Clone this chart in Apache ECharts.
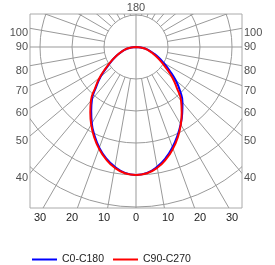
<!DOCTYPE html>
<html>
<head>
<meta charset="utf-8">
<script src="https://cdn.jsdelivr.net/npm/echarts@6/dist/echarts.min.js"></script>
<style>
  html, body { margin: 0; padding: 0; background: #fff; }
  #chart { width: 275px; height: 265px; }
</style>
</head>
<body>
<div id="chart"></div>
<script>
// polar angle measured from straight down (0) to straight up (180)
const angles = [0, 5, 10, 15, 20, 25, 30, 35, 40, 45, 50, 55, 60, 65, 70, 75, 80, 85, 90];
const c0   = [40, 39.5, 38.0, 35.9, 33.3, 30.6, 27.9, 25.2, 22.6, 19.5, 16.2, 12.8, 10.0, 7.8, 5.9, 4.3, 2.9, 1.5, 0];
const c180 = [40, 39.5, 38.0, 36.0, 33.5, 30.6, 27.6, 24.4, 21.4, 17.6, 14.4, 11.2, 8.8, 6.9, 5.2, 3.9, 2.7, 1.4, 0];
const c90  = [40, 39.6, 38.3, 36.3, 33.8, 31.0, 28.0, 24.9, 21.9, 18.0, 14.8, 11.5, 9.0, 7.0, 5.3, 4.0, 2.8, 1.45, 0];
const c270 = [40, 39.6, 38.3, 36.3, 33.8, 31.0, 28.0, 24.9, 21.9, 18.0, 14.8, 11.5, 9.0, 7.0, 5.3, 4.0, 2.8, 1.45, 0];

const ringValues = [10, 20, 30, 40, 50];
const spokeStep = 10;
const sideLabels = [100, 90, 80, 70, 60, 50, 40];
const topLabel = '180';

const xEdge = 33.125;
const yTop = 10.3125, yBottom = -50.3125;

const rad = d => d * Math.PI / 180;
const toXY = (r, a, side) => [side * r * Math.sin(rad(a)), -r * Math.cos(rad(a))];

// left half goes from the centre down to the bottom, right half back up
function curve(left, right) {
    const pts = [];
    for (let i = angles.length - 1; i >= 0; i--) pts.push(toXY(left[i], angles[i], -1));
    for (let i = 1; i < angles.length; i++) pts.push(toXY(right[i], angles[i], 1));
    return pts;
}

const spokes = [];
for (let a = 0; a < 360; a += spokeStep) spokes.push([a, a % 90 === 0 ? 0 : 10]);

const labelData = [];
sideLabels.forEach(a => {
    const y = -xEdge / Math.tan(rad(a));
    const off = a === 90 ? 0 : 5;
    labelData.push({ value: [-xEdge, y, a], label: { position: 'left', offset: [0, off] } });
    labelData.push({ value: [xEdge, y, a], label: { position: 'right', offset: [0, off] } });
});
labelData.push({ value: [0, yTop, topLabel], label: { position: 'top', distance: 1 } });

const gridColor = '#999';
const font = 'Liberation Sans';

const chart = echarts.init(document.getElementById('chart'));
chart.setOption({
    animation: false,
    grid: {
        left: 30,
        right: 33,
        top: 14,
        bottom: 57,
        show: true,
        borderColor: '#aaa',
        borderWidth: 1
    },
    xAxis: {
        type: 'value',
        min: -xEdge,
        max: xEdge,
        axisLine: { show: false },
        axisTick: { show: false },
        splitLine: { show: false },
        axisLabel: {
            margin: 4,
            color: '#222',
            fontFamily: font,
            fontSize: 11,
            formatter: v => (Math.abs(v) % 10 === 0 ? String(Math.abs(v)) : '')
        }
    },
    yAxis: {
        type: 'value',
        min: yBottom,
        max: yTop,
        show: false
    },
    legend: {
        left: 27,
        top: 249,
        icon: 'rect',
        itemWidth: 25,
        itemHeight: 2,
        itemGap: 9,
        textStyle: { color: '#222', fontFamily: font, fontSize: 10.5 },
        data: ['C0-C180', 'C90-C270']
    },
    series: [
        {
            type: 'custom',
            clip: true,
            silent: true,
            z: 1,
            data: ringValues.map(r => [r, 0]),
            renderItem: (params, api) => {
                const c = api.coord([0, 0]);
                const r = api.size([api.value(0), 0])[0];
                return {
                    type: 'circle',
                    shape: { cx: c[0], cy: c[1], r: r },
                    style: { fill: 'none', stroke: gridColor, lineWidth: 1 }
                };
            }
        },
        {
            type: 'custom',
            clip: true,
            silent: true,
            z: 1,
            data: spokes,
            renderItem: (params, api) => {
                const a = api.value(0);
                const p1 = api.coord(toXY(api.value(1), a, 1));
                const p2 = api.coord(toXY(80, a, 1));
                return {
                    type: 'line',
                    shape: { x1: p1[0], y1: p1[1], x2: p2[0], y2: p2[1] },
                    style: { stroke: gridColor, lineWidth: 1 }
                };
            }
        },
        {
            name: 'C0-C180',
            type: 'line',
            z: 3,
            symbol: 'none',
            smooth: 0.5,
            lineStyle: { color: '#0000ff', width: 2 },
            itemStyle: { color: '#0000ff' },
            data: curve(c180, c0)
        },
        {
            name: 'C90-C270',
            type: 'line',
            z: 4,
            symbol: 'none',
            smooth: 0.5,
            lineStyle: { color: '#ff0000', width: 2 },
            itemStyle: { color: '#ff0000' },
            data: curve(c270, c90)
        },
        {
            type: 'scatter',
            clip: false,
            silent: true,
            symbolSize: 0,
            data: labelData,
            label: {
                show: true,
                distance: 2,
                color: '#222',
                fontFamily: font,
                fontSize: 11,
                formatter: p => String(p.value[2])
            }
        }
    ]
});
</script>
</body>
</html>
